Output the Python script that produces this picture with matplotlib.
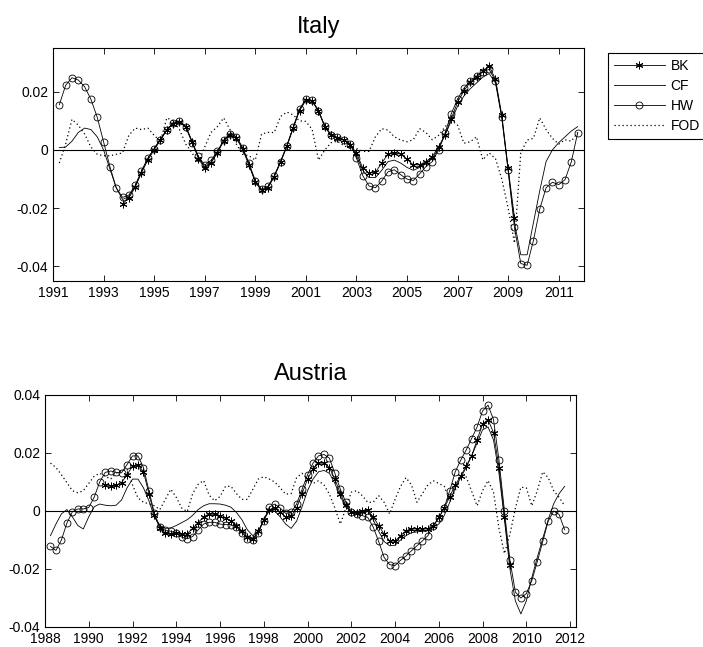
import numpy as np
import matplotlib
matplotlib.use("Agg")
import matplotlib.pyplot as plt
from matplotlib.ticker import FuncFormatter

plt.rcParams['font.family'] = ['Liberation Sans', 'DejaVu Sans']

# ---------------- Italy (quarterly) ----------------
it_start = 1991.25
it_bk_start = 1993.75
it_hw = [0.0155, 0.0222, 0.0248,
         0.0240, 0.0217, 0.0174, 0.0112,
         0.0028, -0.0057, -0.0130, -0.0163,
         -0.0155, -0.0122, -0.0072, -0.0028,
         0.0004, 0.0034, 0.0068, 0.0094,
         0.0100, 0.0080, 0.0025, -0.0022,
         -0.0052, -0.0036, -0.0005, 0.0034,
         0.0055, 0.0045, 0.0008, -0.0045,
         -0.0105, -0.0135, -0.0125, -0.0088,
         -0.0040, 0.0015, 0.0078, 0.0140,
         0.0175, 0.0170, 0.0135, 0.0082,
         0.0052, 0.0043, 0.0035, 0.0022,
         -0.0028, -0.0088, -0.0124, -0.0130,
         -0.0107, -0.0075, -0.0068, -0.0085,
         -0.0100, -0.0105, -0.0082, -0.0057,
         -0.0040, 0.0000, 0.0057, 0.0124,
         0.0175, 0.0212, 0.0237, 0.0254,
         0.0268, 0.0277, 0.0237, 0.0113,
         -0.0070, -0.0266, -0.0390, -0.0396,
         -0.0311, -0.0203, -0.0130, -0.0111,
         -0.0119, -0.0102, -0.0040, 0.0059]
it_cf = [0.0008, 0.0010, 0.0030,
         0.0060, 0.0075, 0.0070, 0.0045,
         0.0000, -0.0065, -0.0130, -0.0170,
         -0.0160, -0.0125, -0.0075, -0.0030,
         0.0005, 0.0038, 0.0070, 0.0092,
         0.0098, 0.0082, 0.0030, -0.0025,
         -0.0058, -0.0042, -0.0008, 0.0032,
         0.0056, 0.0046, 0.0006, -0.0050,
         -0.0110, -0.0140, -0.0128, -0.0090,
         -0.0040, 0.0015, 0.0078, 0.0138,
         0.0172, 0.0168, 0.0135, 0.0080,
         0.0050, 0.0042, 0.0034, 0.0020,
         -0.0020, -0.0070, -0.0095, -0.0095,
         -0.0070, -0.0040, -0.0035, -0.0045,
         -0.0060, -0.0070, -0.0060, -0.0045,
         -0.0030, 0.0005, 0.0050, 0.0100,
         0.0150, 0.0185, 0.0210, 0.0230,
         0.0250, 0.0262, 0.0230, 0.0110,
         -0.0070, -0.0250, -0.0360, -0.0360,
         -0.0250, -0.0140, -0.0040, 0.0000,
         0.0025, 0.0045, 0.0065, 0.0080]
it_fod = [-0.0045, 0.0020, 0.0105,
          0.0085, 0.0055, 0.0010, -0.0015,
          -0.0020, -0.0020, -0.0015, -0.0010,
          0.0050, 0.0075, 0.0070, 0.0075,
          0.0050, 0.0030, 0.0110, 0.0100,
          0.0070, 0.0020, -0.0010, -0.0045,
          0.0010, 0.0060, 0.0080, 0.0110,
          0.0070, 0.0020, -0.0015, -0.0020,
          -0.0035, 0.0055, 0.0060, 0.0060,
          0.0115, 0.0130, 0.0120, 0.0100,
          0.0098, 0.0070, -0.0035, 0.0000,
          0.0025, 0.0030, 0.0015, 0.0005,
          0.0005, -0.0005, -0.0005, 0.0045,
          0.0073, 0.0068, 0.0045, 0.0034,
          0.0028, 0.0035, 0.0073, 0.0060,
          0.0035, 0.0050, 0.0079, 0.0102,
          0.0085, 0.0023, 0.0028, 0.0045,
          -0.0034, -0.0010, -0.0030, -0.0100,
          -0.0200, -0.0320, -0.0010, 0.0034,
          0.0040, 0.0110, 0.0070, 0.0040,
          0.0020, 0.0035, 0.0030, 0.0060]
it_bk = [-0.0185,
         -0.0165, -0.0128, -0.0078, -0.0035,
         0.0000, 0.0035, 0.0068, 0.0090,
         0.0095, 0.0078, 0.0028, -0.0030,
         -0.0062, -0.0045, -0.0010, 0.0030,
         0.0052, 0.0040, 0.0002, -0.0052,
         -0.0110, -0.0138, -0.0130, -0.0092,
         -0.0042, 0.0012, 0.0075, 0.0135,
         0.0170, 0.0168, 0.0132, 0.0080,
         0.0050, 0.0042, 0.0033, 0.0018,
         -0.0010, -0.0062, -0.0079, -0.0077,
         -0.0045, -0.0014, -0.0011, -0.0014,
         -0.0032, -0.0051, -0.0051, -0.0040,
         -0.0023, 0.0011, 0.0051, 0.0107,
         0.0164, 0.0203, 0.0232, 0.0251,
         0.0271, 0.0288, 0.0243, 0.0119,
         -0.0062, -0.0232]

# ---------------- Austria (quarterly) ----------------
at_start = 1988.25
at_bk_start = 1990.75
at_hw = [-0.0122, -0.0136, -0.0100,
         -0.0042, -0.0003, 0.0007, 0.0007,
         0.0012, 0.0048, 0.0100, 0.0133,
         0.0138, 0.0133, 0.0132, 0.0160,
         0.0190, 0.0190, 0.0150, 0.0070,
         -0.0008, -0.0055, -0.0067, -0.0070,
         -0.0076, -0.0090, -0.0096, -0.0088,
         -0.0065, -0.0045, -0.0039, -0.0039,
         -0.0045, -0.0047, -0.0047, -0.0055,
         -0.0075, -0.0095, -0.0100, -0.0075,
         -0.0033, 0.0013, 0.0024, 0.0010,
         -0.0008, -0.0005, 0.0024, 0.0075,
         0.0125, 0.0165, 0.0190, 0.0195,
         0.0182, 0.0130, 0.0075, 0.0030,
         -0.0005, -0.0012, -0.0016, -0.0022,
         -0.0055, -0.0105, -0.0160, -0.0185,
         -0.0188, -0.0170, -0.0155, -0.0137,
         -0.0120, -0.0103, -0.0085, -0.0050,
         -0.0025, 0.0012, 0.0070, 0.0135,
         0.0175, 0.0210, 0.0250, 0.0290,
         0.0345, 0.0365, 0.0315, 0.0175,
         0.0000, -0.0170, -0.0280, -0.0300,
         -0.0285, -0.0240, -0.0175, -0.0105,
         -0.0035, 0.0000, -0.0012, -0.0065]
at_cf = [-0.0085, -0.0045, -0.0010,
         0.0005, -0.0020, -0.0050, -0.0062,
         -0.0020, 0.0015, 0.0024, 0.0020,
         0.0018, 0.0020, 0.0038, 0.0080,
         0.0110, 0.0110, 0.0080, 0.0035,
         -0.0020, -0.0050, -0.0060, -0.0058,
         -0.0050, -0.0040, -0.0030, -0.0015,
         0.0005, 0.0018, 0.0025, 0.0025,
         0.0024, 0.0020, 0.0013, -0.0005,
         -0.0030, -0.0065, -0.0085, -0.0070,
         -0.0030, 0.0000, 0.0000, -0.0020,
         -0.0045, -0.0060, -0.0035, 0.0015,
         0.0070, 0.0110, 0.0135, 0.0140,
         0.0130, 0.0095, 0.0050, 0.0015,
         -0.0005, -0.0005, 0.0000, 0.0000,
         -0.0030, -0.0070, -0.0105, -0.0120,
         -0.0118, -0.0100, -0.0085, -0.0075,
         -0.0072, -0.0070, -0.0068, -0.0055,
         -0.0045, -0.0015, 0.0030, 0.0080,
         0.0115, 0.0150, 0.0190, 0.0235,
         0.0280, 0.0290, 0.0245, 0.0130,
         -0.0030, -0.0200, -0.0310, -0.0355,
         -0.0310, -0.0230, -0.0160, -0.0095,
         -0.0030, 0.0025, 0.0060, 0.0085]
at_fod = [0.0165, 0.0150, 0.0125,
          0.0098, 0.0070, 0.0063, 0.0070,
          0.0095, 0.0120, 0.0130, 0.0120,
          0.0110, 0.0130, 0.0140, 0.0145,
          0.0090, 0.0045, 0.0030, 0.0025,
          0.0018, 0.0005, 0.0040, 0.0075,
          0.0047, 0.0010, -0.0002, 0.0060,
          0.0092, 0.0105, 0.0055, 0.0035,
          0.0050, 0.0085, 0.0085, 0.0060,
          0.0040, 0.0040, 0.0075, 0.0110,
          0.0118, 0.0110, 0.0100, 0.0080,
          0.0058, 0.0060, 0.0115, 0.0130,
          0.0110, 0.0095, 0.0104, 0.0090,
          0.0058, 0.0010, -0.0045, 0.0010,
          0.0065, 0.0070, 0.0053, 0.0030,
          0.0030, 0.0053, 0.0030, -0.0010,
          0.0040, 0.0085, 0.0115, 0.0090,
          0.0030, 0.0060, 0.0090, 0.0104,
          0.0095, 0.0085, 0.0035, 0.0070,
          0.0120, 0.0118, 0.0068, 0.0018,
          0.0070, 0.0105, 0.0065, -0.0060,
          -0.0147, -0.0080, 0.0010, 0.0082,
          0.0080, 0.0018, 0.0070, 0.0135,
          0.0115, 0.0070, 0.0047, 0.0018]
at_bk = [0.0088,
         0.0085, 0.0088, 0.0098, 0.0125,
         0.0155, 0.0160, 0.0135, 0.0060,
         -0.0015, -0.0060, -0.0075, -0.0078,
         -0.0075, -0.0080, -0.0078, -0.0060,
         -0.0040, -0.0020, -0.0010, -0.0012,
         -0.0018, -0.0025, -0.0035, -0.0050,
         -0.0070, -0.0090, -0.0095, -0.0070,
         -0.0030, 0.0005, 0.0010, -0.0005,
         -0.0020, -0.0018, 0.0010, 0.0060,
         0.0110, 0.0145, 0.0165, 0.0165,
         0.0150, 0.0110, 0.0060, 0.0020,
         -0.0005, -0.0008, 0.0000, 0.0003,
         -0.0020, -0.0050, -0.0080, -0.0102,
         -0.0104, -0.0085, -0.0068, -0.0062,
         -0.0062, -0.0062, -0.0062, -0.0050,
         -0.0022, 0.0010, 0.0050, 0.0090,
         0.0120, 0.0155, 0.0190, 0.0245,
         0.0300, 0.0315, 0.0270, 0.0150,
         -0.0020, -0.0185]

it_xticks = list(range(1991, 2012, 2))
it_yticks = [-0.04, -0.02, 0, 0.02]
at_xticks = list(range(1988, 2013, 2))
at_yticks = [-0.04, -0.02, 0, 0.02, 0.04]
labels = ["BK", "CF", "HW", "FOD"]


def qt(start, vals):
    return start + 0.25 * np.arange(len(vals))


W, H = 703, 647
fig = plt.figure(figsize=(W / 100, H / 100), dpi=100)

fmt = FuncFormatter(lambda v, p: ("%g" % round(v, 4)))


def draw(ax, start, bk_start, bk, cf, hw, fod, title, xlim, ylim, xt, yt):
    lw = 0.6
    h1, = ax.plot(qt(bk_start, bk), bk, color='black', lw=lw, marker=(6, 2, 0),
                  ms=5.5, mew=0.7)
    h2, = ax.plot(qt(start, cf), cf, color='black', lw=lw)
    h3, = ax.plot(qt(start, hw), hw, color='black', lw=lw, marker='o', ms=5,
                  mfc='none', mec='black', mew=0.6)
    h4, = ax.plot(qt(start, fod), fod, color='black', lw=0.9, ls=(0, (1, 2.2)))
    ax.axhline(0, color='black', lw=0.8)
    ax.set_xlim(*xlim)
    ax.set_ylim(*ylim)
    ax.set_xticks(xt)
    ax.set_yticks(yt)
    ax.yaxis.set_major_formatter(fmt)
    ax.tick_params(direction='in', top=True, right=True, length=4, width=0.6,
                   labelsize=10, pad=3.5)
    for s in ax.spines.values():
        s.set_linewidth(0.8)
    ax.set_title(title, fontsize=17, pad=10.5)
    return [h1, h2, h3, h4]


ax1 = fig.add_axes([53 / W, 1 - 281 / H, (584 - 53) / W, (281 - 48) / H])
handles = draw(ax1, it_start, it_bk_start, it_bk, it_cf, it_hw, it_fod, "Italy",
               (1991, 2012), (-0.045, 0.035), it_xticks, it_yticks)

ax2 = fig.add_axes([45 / W, 1 - 627 / H, (576 - 45) / W, (627 - 395) / H])
draw(ax2, at_start, at_bk_start, at_bk, at_cf, at_hw, at_fod, "Austria",
     (1988, 2012.27), (-0.04, 0.04), at_xticks, at_yticks)

leg = fig.legend(handles, labels, loc='upper left',
                 bbox_to_anchor=(608 / W, 1 - 53 / H), fontsize=10,
                 frameon=True, fancybox=False, edgecolor='black',
                 borderpad=0.4, handlelength=3.7, handletextpad=0.4,
                 labelspacing=0.45, borderaxespad=0, framealpha=1)
leg.get_frame().set_linewidth(0.8)

fig.savefig("out.png", dpi=100)
